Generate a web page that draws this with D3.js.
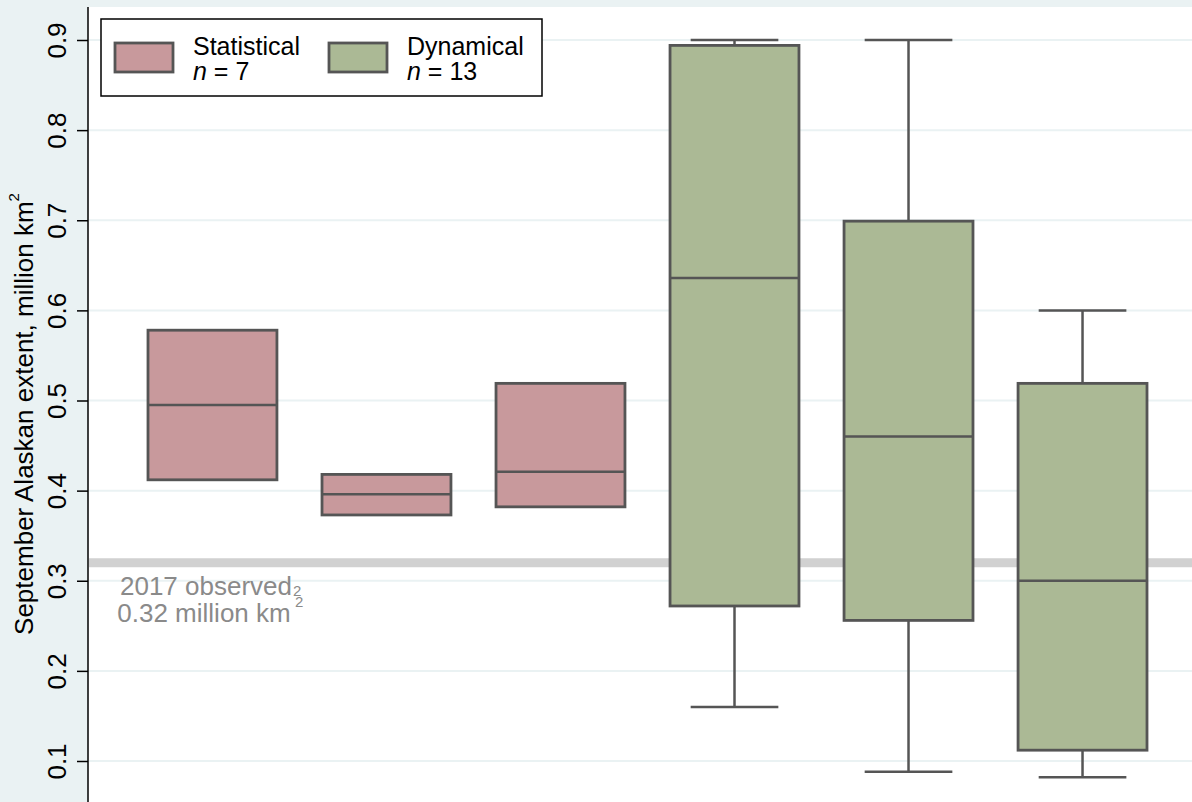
<!DOCTYPE html>
<html>
<head>
<meta charset="utf-8">
<script src="https://cdn.jsdelivr.net/npm/d3@7"></script>
<style>
  html, body { margin: 0; padding: 0; background: #eaf2f3; }
  svg { display: block; }
  text { font-family: "Liberation Sans", Arial, sans-serif; }
</style>
</head>
<body>
<svg id="chart" width="1192" height="802"></svg>
<script>
// Outlook groups, left to right
const groups = ["Stat A", "Stat B", "Stat C", "Dyn A", "Dyn B", "Dyn C"];
const methods = ["Statistical", "Statistical", "Statistical", "Dynamical", "Dynamical", "Dynamical"];
// Box statistics (million km²)
const whiskerHigh = [0.578, 0.418, 0.519, 0.900, 0.900, 0.600];
const q3 = [0.578, 0.418, 0.519, 0.894, 0.699, 0.519];
const median = [0.495, 0.396, 0.421, 0.636, 0.460, 0.300];
const q1 = [0.412, 0.373, 0.382, 0.272, 0.256, 0.112];
const whiskerLow = [0.412, 0.373, 0.382, 0.160, 0.088, 0.082];
const yTicks = [0.1, 0.2, 0.3, 0.4, 0.5, 0.6, 0.7, 0.8, 0.9];
const observed = 0.32;
const legendNames = ["Statistical", "Dynamical"];
const legendCounts = [7, 13];

const colour = { Statistical: "#c8999c", Dynamical: "#abb995" };
const edge = "#555555";

const svg = d3.select("#chart");
const W = 1192, H = 802;
const plotLeft = 88, plotTop = 7;

const y = d3.scaleLinear().domain([0.1, 0.9]).range([761, 40]);
const x = d3.scaleBand().domain(groups).range([148, 1147]).paddingInner(0.259).paddingOuter(0);

// Title (runs above the top edge of the page)
svg.append("text")
  .attr("x", 640).attr("y", -5)
  .attr("text-anchor", "middle")
  .attr("font-size", 26).attr("fill", "#1a2b5c")
  .text("Alaskan region, by type of outlook: spread of predictions by method (n = 20)");

// Plot region
svg.append("rect")
  .attr("x", plotLeft).attr("y", plotTop)
  .attr("width", W - plotLeft).attr("height", H - plotTop)
  .attr("fill", "#ffffff");

// Gridlines
svg.append("g").selectAll("line").data(yTicks).join("line")
  .attr("x1", plotLeft + 1).attr("x2", W)
  .attr("y1", d => y(d)).attr("y2", d => y(d))
  .attr("stroke", "#eaf2f3").attr("stroke-width", 2);

// Observed extent band
svg.append("line")
  .attr("x1", plotLeft + 1).attr("x2", W)
  .attr("y1", y(observed)).attr("y2", y(observed))
  .attr("stroke", "#d1d1d1").attr("stroke-width", 9);

const note = svg.append("g").attr("fill", "#8a8a8a").attr("font-size", 26);
note.append("text").attr("x", 206).attr("y", 595).attr("text-anchor", "middle").text("2017 observed");
note.append("text").attr("x", 293).attr("y", 596).attr("font-size", 15).text("2");
note.append("text").attr("x", 204).attr("y", 622).attr("text-anchor", "middle").text("0.32 million km");
note.append("text").attr("x", 295).attr("y", 607).attr("font-size", 15).text("2");

// Box plots
const boxes = svg.append("g").selectAll("g").data(groups).join("g");
const bw = x.bandwidth();
boxes.append("line") // whisker stem
  .attr("x1", (d) => x(d) + bw / 2).attr("x2", (d) => x(d) + bw / 2)
  .attr("y1", (d, i) => y(whiskerHigh[i])).attr("y2", (d, i) => y(whiskerLow[i]))
  .attr("stroke", edge).attr("stroke-width", 2.5);
boxes.each(function(d, i) {
  if (whiskerHigh[i] > q3[i] || whiskerLow[i] < q1[i]) {
    const g = d3.select(this);
    const cx = x(d) + bw / 2, cap = bw * 0.34;
    [whiskerHigh[i], whiskerLow[i]].forEach(v => {
      g.append("line").attr("x1", cx - cap).attr("x2", cx + cap)
        .attr("y1", y(v)).attr("y2", y(v))
        .attr("stroke", edge).attr("stroke-width", 2.5);
    });
  }
});
boxes.append("rect")
  .attr("x", d => x(d)).attr("width", bw)
  .attr("y", (d, i) => y(q3[i])).attr("height", (d, i) => y(q1[i]) - y(q3[i]))
  .attr("fill", (d, i) => colour[methods[i]])
  .attr("stroke", edge).attr("stroke-width", 2.8);
boxes.append("line")
  .attr("x1", d => x(d)).attr("x2", d => x(d) + bw)
  .attr("y1", (d, i) => y(median[i])).attr("y2", (d, i) => y(median[i]))
  .attr("stroke", edge).attr("stroke-width", 2.5);

// Y axis
const axis = svg.append("g")
  .attr("transform", `translate(${plotLeft},0)`)
  .call(d3.axisLeft(y).tickValues(yTicks).tickFormat(d3.format(".1f")).tickSize(11));
axis.select(".domain").remove();
axis.append("line").attr("x1", 0).attr("x2", 0).attr("y1", plotTop).attr("y2", H)
  .attr("stroke", "#000").attr("stroke-width", 1.5);
axis.selectAll(".tick line").attr("stroke", "#000").attr("stroke-width", 1.5);
axis.selectAll(".tick text")
  .attr("font-size", 26).attr("fill", "#000")
  .attr("font-family", "Liberation Sans, Arial, sans-serif")
  .attr("x", 0).attr("y", 0).attr("dy", 0)
  .attr("transform", "translate(-22,0) rotate(-90)")
  .attr("text-anchor", "middle");

// Axis title
const yTitle = svg.append("text")
  .attr("transform", "translate(33, 414) rotate(-90)")
  .attr("text-anchor", "middle").attr("font-size", 26).attr("fill", "#000");
yTitle.append("tspan").text("September Alaskan extent, million km");
yTitle.append("tspan").attr("font-size", 15).attr("dy", -14).text("2");

// Legend
const lg = svg.append("g");
lg.append("rect").attr("x", 101).attr("y", 19).attr("width", 441).attr("height", 77)
  .attr("fill", "#fff").attr("stroke", "#000").attr("stroke-width", 1.5);
const items = lg.selectAll("g").data(legendNames).join("g")
  .attr("transform", (d, i) => `translate(${115 + i * 214},0)`);
items.append("rect").attr("x", 0).attr("y", 43).attr("width", 58).attr("height", 29)
  .attr("fill", d => colour[d]).attr("stroke", edge).attr("stroke-width", 2.8);
items.append("text").attr("x", 78).attr("y", 55).attr("font-size", 25).text(d => d);
const nt = items.append("text").attr("x", 78).attr("y", 80).attr("font-size", 25);
nt.append("tspan").attr("font-style", "italic").text("n");
nt.append("tspan").text((d, i) => " = " + legendCounts[i]);
</script>
</body>
</html>
